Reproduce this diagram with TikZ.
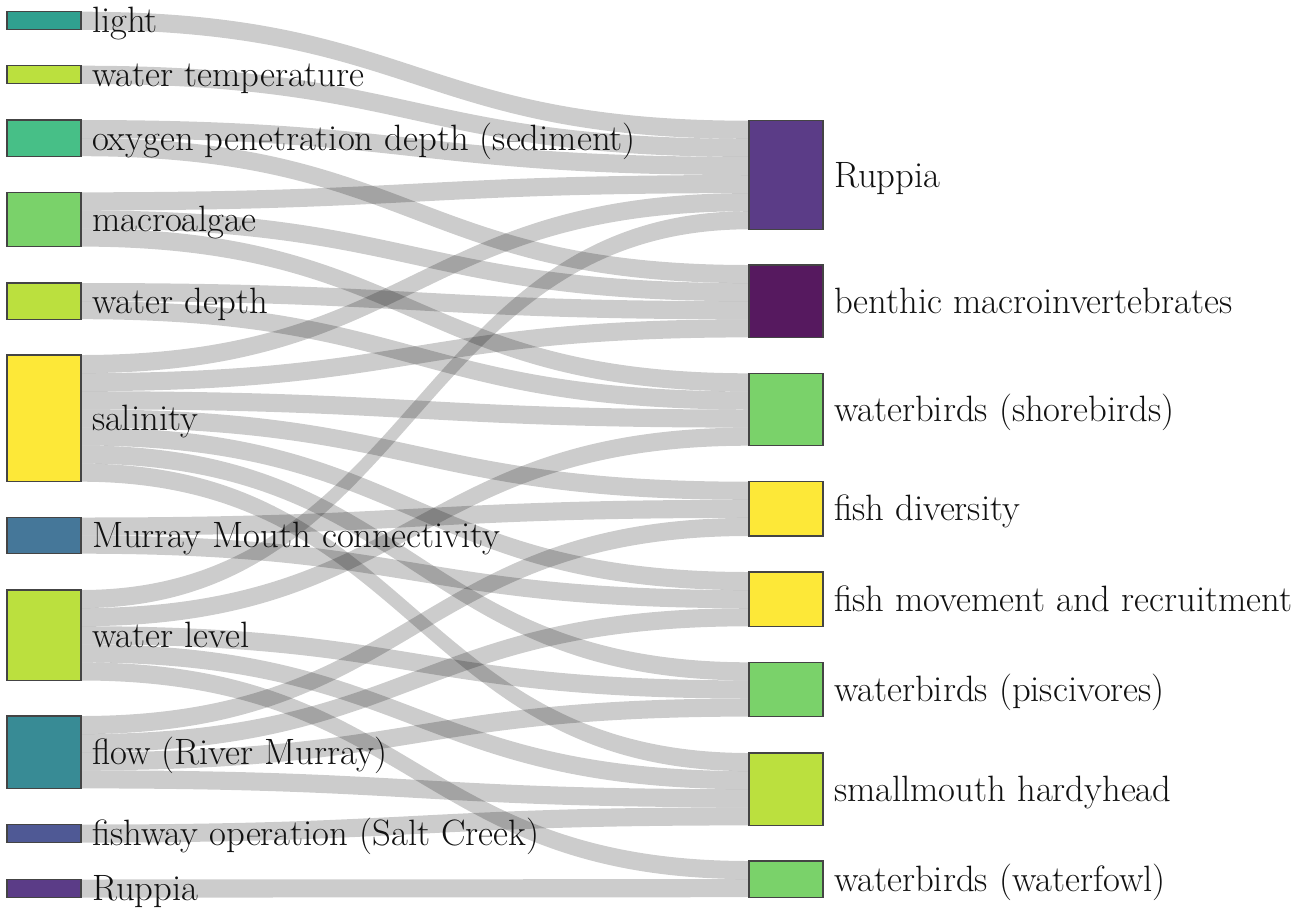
\documentclass[tikz,border=0pt]{standalone}
\usepackage{fontspec}
\usetikzlibrary{calc}
\definecolor{cLight}{HTML}{30A08F}
\definecolor{cTemp}{HTML}{BBE03E}
\definecolor{cOxy}{HTML}{47BF87}
\definecolor{cMacro}{HTML}{7AD26A}
\definecolor{cSal}{HTML}{FDE838}
\definecolor{cMMC}{HTML}{457799}
\definecolor{cFlow}{HTML}{388B95}
\definecolor{cFish}{HTML}{4F5995}
\definecolor{cRup}{HTML}{5B3C87}
\definecolor{cBMI}{HTML}{56195F}
\definecolor{nodeline}{HTML}{444444}
\definecolor{textcol}{HTML}{111111}
\pgfdeclarelayer{bg}
\pgfsetlayers{bg,main}
\tikzset{
  sknode/.style={draw=nodeline, line width=1pt, inner sep=0pt, outer sep=0pt,
    minimum width=55.5pt, anchor=north west, rectangle},
  nunits/.style={minimum height=#1*13.575pt},
  sklabel/.style={anchor=base west, inner sep=0pt, outer sep=0pt, text=textcol,
    font=\fontsize{27.5}{32}\selectfont},
  skflow/.style={fill=black, fill opacity=0.2},
}
\newcommand\sklink[4]{%
  \path (#1.north east) ++(0,#2*18.1) coordinate (sa) ++(0,18.1) coordinate (sb);
  \path (#3.north west) ++(0,#4*18.1) coordinate (ta) ++(0,18.1) coordinate (tb);
  \fill[skflow] (sa) .. controls (sa -| mid) and (ta -| mid) .. (ta)
     -- (tb) .. controls (tb -| mid) and (sb -| mid) .. (sb) -- cycle;
}
\begin{document}
\begin{tikzpicture}[x=0.75pt, y=-0.75pt]
\useasboundingbox (0,0) rectangle (1307,908);
\coordinate (mid) at (415,0);
% left nodes
\node[sknode, nunits=1, fill=cLight] (L1) at (7,11.7) {};
\node[sknode, nunits=1, fill=cTemp]  (L2) at (7,65.7) {};
\node[sknode, nunits=2, fill=cOxy]   (L3) at (7,120) {};
\node[sknode, nunits=3, fill=cMacro] (L4) at (7,192.3) {};
\node[sknode, nunits=2, fill=cTemp]  (L5) at (7,283) {};
\node[sknode, nunits=7, fill=cSal]   (L6) at (7,355) {};
\node[sknode, nunits=2, fill=cMMC]   (L7) at (7,517.5) {};
\node[sknode, nunits=5, fill=cTemp]  (L8) at (7,590) {};
\node[sknode, nunits=4, fill=cFlow]  (L9) at (7,716) {};
\node[sknode, nunits=1, fill=cFish]  (L10) at (7,824.5) {};
\node[sknode, nunits=1, fill=cRup]   (L11) at (7,879.5) {};
% right nodes
\node[sknode, nunits=6, fill=cRup]   (R1) at (749,120.7) {};
\node[sknode, nunits=4, fill=cBMI]   (R2) at (749,265) {};
\node[sknode, nunits=4, fill=cMacro] (R3) at (749,373.3) {};
\node[sknode, nunits=3, fill=cSal]   (R4) at (749,481.7) {};
\node[sknode, nunits=3, fill=cSal]   (R5) at (749,572) {};
\node[sknode, nunits=3, fill=cMacro] (R6) at (749,662.3) {};
\node[sknode, nunits=4, fill=cTemp]  (R7) at (749,753) {};
\node[sknode, nunits=2, fill=cMacro] (R8) at (749,861) {};
% links
\begin{pgfonlayer}{bg}
\sklink{L1}{0}{R1}{0}
\sklink{L2}{0}{R1}{1}
\sklink{L3}{0}{R1}{2}
\sklink{L3}{1}{R2}{0}
\sklink{L4}{0}{R1}{3}
\sklink{L4}{1}{R2}{1}
\sklink{L4}{2}{R3}{0}
\sklink{L5}{0}{R2}{2}
\sklink{L5}{1}{R3}{1}
\sklink{L6}{0}{R1}{4}
\sklink{L6}{1}{R2}{3}
\sklink{L6}{2}{R3}{2}
\sklink{L6}{3}{R4}{0}
\sklink{L6}{4}{R5}{0}
\sklink{L6}{5}{R6}{0}
\sklink{L6}{6}{R7}{0}
\sklink{L7}{0}{R4}{1}
\sklink{L7}{1}{R5}{1}
\sklink{L8}{0}{R1}{5}
\sklink{L8}{1}{R3}{3}
\sklink{L8}{2}{R6}{1}
\sklink{L8}{3}{R7}{1}
\sklink{L8}{4}{R8}{0}
\sklink{L9}{0}{R4}{2}
\sklink{L9}{1}{R5}{2}
\sklink{L9}{2}{R6}{2}
\sklink{L9}{3}{R7}{2}
\sklink{L10}{0}{R7}{3}
\sklink{L11}{0}{R8}{1}
\end{pgfonlayer}
% labels
\node[sklabel] (tL1) at ($(L1.east)+(11,12)$) {light};
\node[sklabel] (tL2) at ($(L2.east)+(11,12)$) {water temperature};
\node[sklabel] (tL3) at ($(L3.east)+(11,12)$) {oxygen penetration depth (sediment)};
\node[sklabel] (tL4) at ($(L4.east)+(11,12)$) {macroalgae};
\node[sklabel] (tL5) at ($(L5.east)+(11,12)$) {water depth};
\node[sklabel] (tL6) at ($(L6.east)+(11,12)$) {salinity};
\node[sklabel] (tL7) at ($(L7.east)+(11,12)$) {Murray Mouth connectivity};
\node[sklabel] (tL8) at ($(L8.east)+(11,12)$) {water level};
\node[sklabel] (tL9) at ($(L9.east)+(11,12)$) {flow (River Murray)};
\node[sklabel] (tL10) at ($(L10.east)+(11,12)$) {fishway operation (Salt Creek)};
\node[sklabel] (tL11) at ($(L11.east)+(11,12)$) {Ruppia};
\node[sklabel] (tR1) at ($(R1.east)+(11,12)$) {Ruppia};
\node[sklabel] (tR2) at ($(R2.east)+(11,12)$) {benthic macroinvertebrates};
\node[sklabel] (tR3) at ($(R3.east)+(11,12)$) {waterbirds (shorebirds)};
\node[sklabel] (tR4) at ($(R4.east)+(11,12)$) {fish diversity};
\node[sklabel] (tR5) at ($(R5.east)+(11,12)$) {fish movement and recruitment};
\node[sklabel] (tR6) at ($(R6.east)+(11,12)$) {waterbirds (piscivores)};
\node[sklabel] (tR7) at ($(R7.east)+(11,12)$) {smallmouth hardyhead};
\node[sklabel] (tR8) at ($(R8.east)+(11,12)$) {waterbirds (waterfowl)};
\end{tikzpicture}
\end{document}
